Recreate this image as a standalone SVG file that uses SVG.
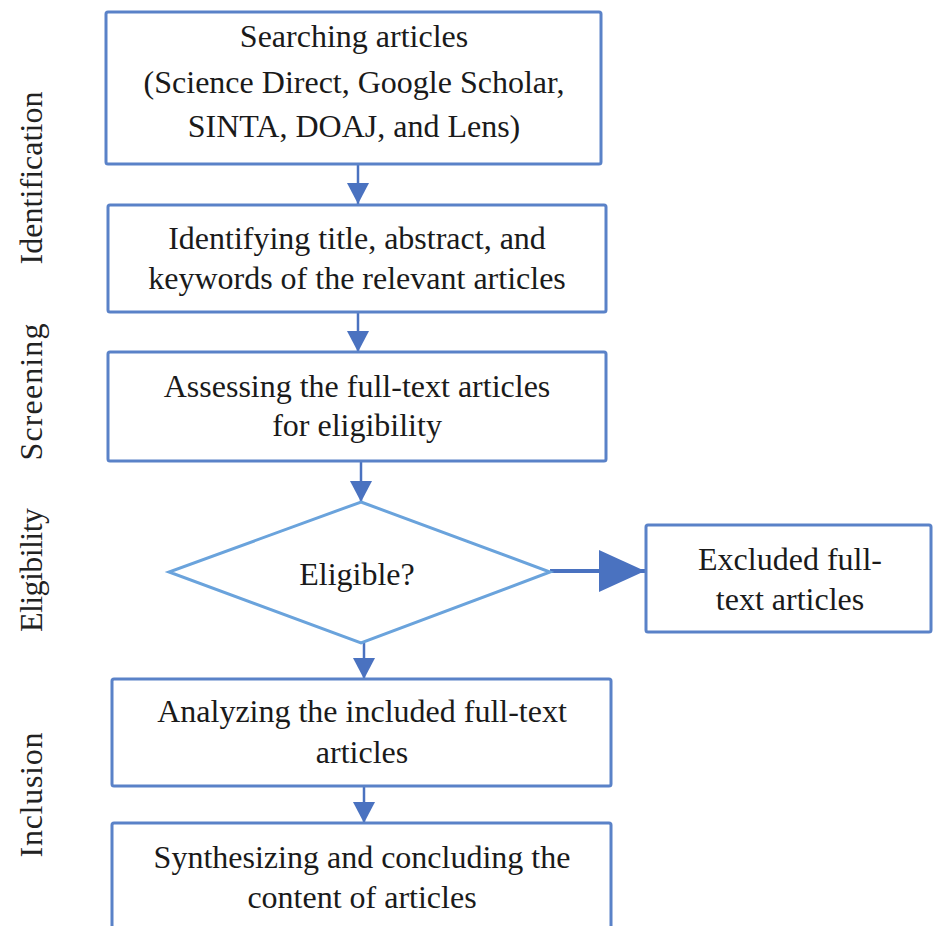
<svg xmlns="http://www.w3.org/2000/svg" width="933" height="926" viewBox="0 0 933 926">
<defs>
<style>
.box{fill:#fff;stroke:#5a82c8;stroke-width:3}
.dia{fill:#fff;stroke:#6aa3dc;stroke-width:3}
.t{font-family:"Liberation Serif","Times New Roman",serif;font-size:32px;fill:#1a1a1a;text-anchor:middle}
.side{font-family:"Liberation Serif","Times New Roman",serif;font-size:32px;fill:#222;text-anchor:middle}
.c{stroke:#4a72c0;stroke-width:2.5;fill:none}
.cb{stroke:#4a72c0;stroke-width:4;fill:none}
</style>
<marker id="ah" markerUnits="userSpaceOnUse" markerWidth="22" markerHeight="22" refX="21" refY="11" orient="auto">
<path d="M0,0 L21,11 L0,22 Z" fill="#4a72c0"/>
</marker>
<marker id="ahb" markerUnits="userSpaceOnUse" markerWidth="46" markerHeight="42" refX="46" refY="21" orient="auto">
<path d="M0,0 L46,21 L0,42 Z" fill="#4a72c0"/>
</marker>
</defs>
<rect width="933" height="926" fill="#fff"/>
<g id="labels">
<text class="side" transform="translate(42,178) rotate(-90)" textLength="173">Identification</text>
<text class="side" transform="translate(42,392) rotate(-90)" textLength="137">Screening</text>
<text class="side" transform="translate(42,570) rotate(-90)" textLength="124">Eligibility</text>
<text class="side" transform="translate(42,795) rotate(-90)" textLength="125">Inclusion</text>
</g>
<g id="connectors">
<line class="c" x1="358" y1="164" x2="358" y2="204" marker-end="url(#ah)"/>
<line class="c" x1="358" y1="312" x2="358" y2="352" marker-end="url(#ah)"/>
<line class="c" x1="361" y1="461" x2="361" y2="502" marker-end="url(#ah)"/>
<line class="cb" x1="550" y1="571" x2="645" y2="571" marker-end="url(#ahb)"/>
<line class="c" x1="364" y1="643" x2="364" y2="679" marker-end="url(#ah)"/>
<line class="c" x1="364" y1="786" x2="364" y2="823" marker-end="url(#ah)"/>
</g>
<g id="n1">
<rect class="box" x="106" y="12" width="495" height="152" rx="2"/>
<text class="t" x="354" y="47">Searching articles</text>
<text class="t" x="354" y="93">(Science Direct, Google Scholar,</text>
<text class="t" x="354" y="137">SINTA, DOAJ, and Lens)</text>
</g>
<g id="n2">
<rect class="box" x="108" y="205" width="498" height="107" rx="2"/>
<text class="t" x="357" y="249">Identifying title, abstract, and</text>
<text class="t" x="357" y="289">keywords of the relevant articles</text>
</g>
<g id="n3">
<rect class="box" x="108" y="352" width="498" height="109" rx="2"/>
<text class="t" x="357" y="397">Assessing the full-text articles</text>
<text class="t" x="357" y="436">for eligibility</text>
</g>
<g id="n4">
<polygon class="dia" points="361,502 550,572 361,643 169,572"/>
<text class="t" x="357" y="585">Eligible?</text>
</g>
<g id="n5">
<rect class="box" x="646" y="525" width="285" height="107" rx="2"/>
<text class="t" x="790" y="570">Excluded full-</text>
<text class="t" x="790" y="610">text articles</text>
</g>
<g id="n6">
<rect class="box" x="112" y="679" width="499" height="107" rx="2"/>
<text class="t" x="362" y="722">Analyzing the included full-text</text>
<text class="t" x="362" y="763">articles</text>
</g>
<g id="n7">
<rect class="box" x="112" y="823" width="499" height="120" rx="2"/>
<text class="t" x="362" y="868">Synthesizing and concluding the</text>
<text class="t" x="362" y="908">content of articles</text>
</g>
</svg>
